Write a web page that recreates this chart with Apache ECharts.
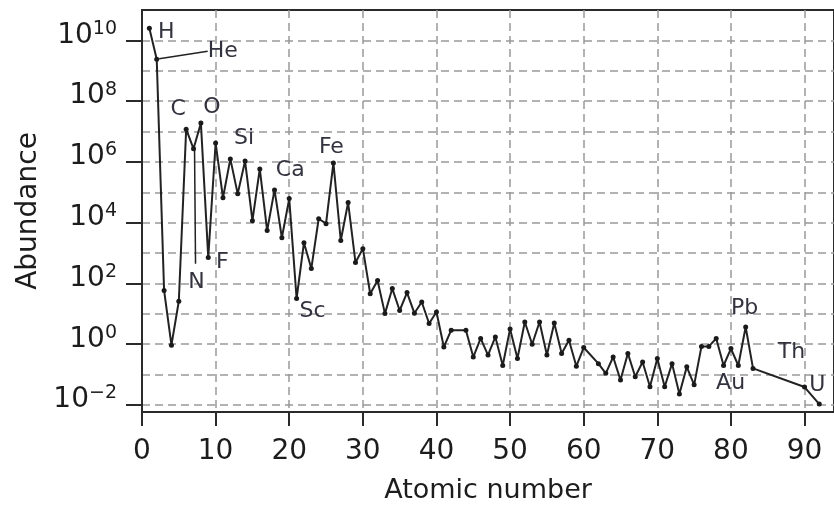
<!DOCTYPE html>
<html>
<head>
<meta charset="utf-8">
<title>Abundance vs atomic number</title>
<script src="https://cdn.jsdelivr.net/npm/echarts@6/dist/echarts.min.js"></script>
<style>
  html, body { margin: 0; padding: 0; background: #fff; }
  #chart { width: 834px; height: 506px; }
</style>
</head>
<body>
<div id="chart"></div>
<script>
// elements plotted (Tc, Pm and 84-89 are absent, the line just joins across)
const atomicNumber = [
  1, 2, 3, 4, 5, 6, 7, 8, 9, 10,
  11, 12, 13, 14, 15, 16, 17, 18, 19, 20,
  21, 22, 23, 24, 25, 26, 27, 28, 29, 30,
  31, 32, 33, 34, 35, 36, 37, 38, 39, 40,
  41, 42, 44, 45, 46, 47, 48, 49, 50,
  51, 52, 53, 54, 55, 56, 57, 58, 59, 60,
  62, 63, 64, 65, 66, 67, 68, 69, 70,
  71, 72, 73, 74, 75, 76, 77, 78, 79, 80,
  81, 82, 83, 90, 92
];
const symbol = [
  'H', 'He', 'Li', 'Be', 'B', 'C', 'N', 'O', 'F', 'Ne',
  'Na', 'Mg', 'Al', 'Si', 'P', 'S', 'Cl', 'Ar', 'K', 'Ca',
  'Sc', 'Ti', 'V', 'Cr', 'Mn', 'Fe', 'Co', 'Ni', 'Cu', 'Zn',
  'Ga', 'Ge', 'As', 'Se', 'Br', 'Kr', 'Rb', 'Sr', 'Y', 'Zr',
  'Nb', 'Mo', 'Ru', 'Rh', 'Pd', 'Ag', 'Cd', 'In', 'Sn',
  'Sb', 'Te', 'I', 'Xe', 'Cs', 'Ba', 'La', 'Ce', 'Pr', 'Nd',
  'Sm', 'Eu', 'Gd', 'Tb', 'Dy', 'Ho', 'Er', 'Tm', 'Yb',
  'Lu', 'Hf', 'Ta', 'W', 'Re', 'Os', 'Ir', 'Pt', 'Au', 'Hg',
  'Tl', 'Pb', 'Bi', 'Th', 'U'
];
const abundance = [
  2.5e10, 2.4e9, 59, 0.93, 26, 1.2e7, 2.7e6, 1.9e7, 710, 4.2e6,
  6.6e4, 1.26e6, 8.9e4, 1.07e6, 1.17e4, 5.9e5, 5500, 1.2e5, 3200, 6.2e4,
  32, 2200, 310, 1.35e4, 9300, 9.3e5, 2600, 4.6e4, 490, 1400,
  46, 126, 10.2, 68, 12.9, 50, 10.5, 24.5, 4.8, 11.5,
  0.81, 2.9, 2.9, 0.38, 1.55, 0.44, 1.74, 0.2, 3.2,
  0.34, 5.4, 1.0, 5.4, 0.44, 5.0, 0.5, 1.35, 0.19, 0.78,
  0.23, 0.11, 0.38, 0.066, 0.5, 0.085, 0.26, 0.04, 0.34,
  0.04, 0.23, 0.023, 0.18, 0.046, 0.85, 0.85, 1.55, 0.2, 0.72,
  0.2, 3.7, 0.16, 0.039, 0.0107
];
// named elements in the plot
const labelled = ['H', 'He', 'C', 'N', 'O', 'F', 'Si', 'Ca', 'Sc', 'Fe', 'Au', 'Pb', 'Th', 'U'];

const xTicks = [0, 10, 20, 30, 40, 50, 60, 70, 80, 90];
const yGrid = [1e-2, 1e-1, 1, 1e1, 1e2, 1e3, 1e4, 1e5, 1e6, 1e7, 1e8, 1e9, 1e10];
const yTicks = [1e-2, 1, 1e2, 1e4, 1e6, 1e8, 1e10];

// label placement, px from the point
const labelOffset = {
  H: [17, 4], He: [66, -8], C: [-8, -20], N: [3, 133], O: [11, -16], F: [14, 5],
  Si: [-1, -23], Ca: [1, -28], Sc: [16, 13], Fe: [-2, -16],
  Au: [7, 18], Pb: [-1, -19], Th: [-13, -35], U: [-2, -19]
};

const FONT = 'DejaVu Sans';
const INK = '#1c1c1c';
const yMin = Math.pow(10, -2.23);
const yMax = 1e11;

const points = atomicNumber.map((z, i) => {
  const item = { value: [z, abundance[i]] };
  if (labelled.indexOf(symbol[i]) >= 0) {
    item.label = { show: true, formatter: symbol[i] };
    if (symbol[i] === 'He') {
      item.labelLine = { show: true, lineStyle: { color: '#222', width: 1.5 } };
    }
  }
  return item;
});

// the N point, for its drop line down to the label
const nIdx = symbol.indexOf('N');
const nPoint = [[atomicNumber[nIdx], abundance[nIdx]]];

const chart = echarts.init(document.getElementById('chart'));
chart.setOption({
  animation: false,
  grid: {
    left: 142, top: 10, right: 0, bottom: 94,
    show: true, borderColor: '#2a2a2a', borderWidth: 2,
    outerBoundsMode: 'none'
  },
  xAxis: {
    type: 'value',
    min: 0, max: 94, interval: 10,
    name: 'Atomic number',
    nameLocation: 'middle',
    nameGap: 65,
    nameTextStyle: { fontFamily: FONT, fontSize: 27, color: INK },
    axisLine: { lineStyle: { color: '#2a2a2a', width: 2 } },
    axisTick: { customValues: xTicks, length: 14, lineStyle: { color: '#2a2a2a', width: 2 } },
    axisLabel: {
      customValues: xTicks,
      margin: 26, fontFamily: FONT, fontSize: 28, color: INK
    },
    splitLine: { show: true, lineStyle: { color: '#999', width: 1.5, type: [8, 5] } }
  },
  yAxis: [
    {
      type: 'log',
      min: yMin, max: yMax,
      axisLine: { show: true, lineStyle: { color: '#2a2a2a', width: 2 } },
      axisTick: { show: false, customValues: yGrid },
      axisLabel: { show: false },
      splitLine: { show: true, lineStyle: { color: '#999', width: 1.5, type: [8, 5] } }
    },
    {
      type: 'log',
      min: yMin, max: yMax,
      position: 'left',
      name: 'Abundance',
      nameLocation: 'middle',
      nameGap: 96,
      nameRotate: 90,
      nameTextStyle: { fontFamily: FONT, fontSize: 28, color: INK },
      axisLine: { show: false },
      axisTick: { show: true, customValues: yTicks, length: 16, lineStyle: { color: '#2a2a2a', width: 2 } },
      axisLabel: {
        customValues: yTicks,
        margin: 25,
        padding: [0, 0, 12, 0],
        formatter: function (v) {
          const e = Math.round(Math.log10(v));
          return '{b|10}{s|' + (e < 0 ? '\u2212' + (-e) : e) + '}';
        },
        rich: {
          b: { fontFamily: FONT, fontSize: 28, lineHeight: 30, color: INK, verticalAlign: 'bottom' },
          s: { fontFamily: FONT, fontSize: 19, lineHeight: 14, color: INK, verticalAlign: 'top' }
        }
      },
      splitLine: { show: false }
    }
  ],
  series: [
    {
      type: 'line',
      data: points,
      symbol: 'circle',
      symbolSize: 5,
      showSymbol: true,
      lineStyle: { color: '#222', width: 2 },
      itemStyle: { color: '#1a1a1a' },
      label: {
        position: 'inside',
        fontFamily: FONT, fontSize: 22, color: '#33333f'
      },
      labelLayout: function (p) {
        const off = labelOffset[symbol[p.dataIndex]];
        return off ? { dx: off[0], dy: off[1] } : {};
      },
      emphasis: { disabled: true },
      z: 3
    },
    {
      // thin drop line from N down towards its label
      type: 'custom',
      data: nPoint,
      silent: true,
      z: 2,
      renderItem: function (params, api) {
        const p = api.coord([api.value(0), api.value(1)]);
        return {
          type: 'line',
          shape: { x1: p[0] + 1, y1: p[1], x2: p[0] + 2, y2: p[1] + labelOffset.N[1] - 18 },
          style: { stroke: '#222', lineWidth: 1.5 }
        };
      }
    }
  ]
});
</script>
</body>
</html>
